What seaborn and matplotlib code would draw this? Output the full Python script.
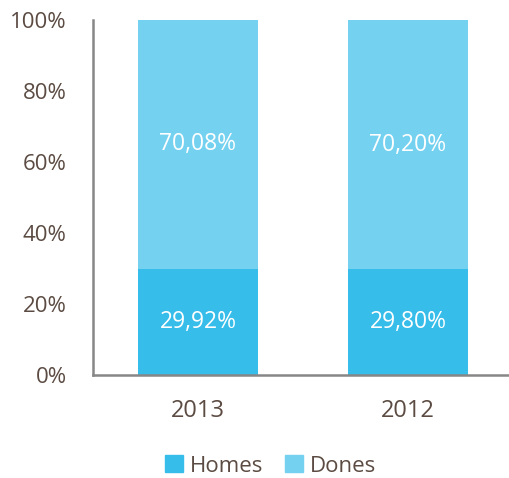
import matplotlib
matplotlib.use("Agg")
import matplotlib.pyplot as plt
import seaborn as sns
import pandas as pd
import numpy as np
from matplotlib.patches import Patch

years = ["2013", "2012"]
homes = [29.92, 29.80]
dones = [70.08, 70.20]
homes_labels = ["29,92%", "29,80%"]
dones_labels = ["70,08%", "70,20%"]
yticks = [0, 20, 40, 60, 80, 100]
ytick_labels = ["0%", "20%", "40%", "60%", "80%", "100%"]

c_homes = "#37BDEA"
c_dones = "#75D1F0"
txt = "#5B4B42"

sns.set_theme(style="white")
plt.rcParams['font.family'] = ['Open Sans', 'DejaVu Sans']

df = pd.DataFrame({"year": years, "Homes": homes, "Dones": dones})

fig = plt.figure(figsize=(5.09, 4.78), dpi=100)
ax = fig.add_axes([93/509, 1-375/478, 420/509, 355/478])

sns.barplot(data=df, x="year", y="Homes", color=c_homes, width=0.571, ax=ax,
            saturation=1, linewidth=0)
sns.barplot(data=df, x="year", y="Dones", color=c_dones, width=0.571, ax=ax,
            saturation=1, linewidth=0, bottom=df["Homes"].values)

for i in range(len(years)):
    ax.text(i, homes[i] / 2, homes_labels[i], ha="center", va="center",
            color="white", fontsize=16.5)
    ax.text(i, homes[i] + dones[i] / 2, dones_labels[i], ha="center", va="center",
            color="white", fontsize=16.5)

ax.set_xlim(-0.5, 1.5)
ax.set_ylim(0, 100)
ax.set_yticks(yticks)
ax.set_yticklabels(ytick_labels)
ax.set_xlabel("")
ax.set_ylabel("")
ax.tick_params(axis="y", colors=txt, labelsize=16, length=0, pad=19)
ax.tick_params(axis="x", colors=txt, labelsize=17, length=0, pad=17)
for s in ["top", "right"]:
    ax.spines[s].set_visible(False)
for s in ["left", "bottom"]:
    ax.spines[s].set_color("#878787")
    ax.spines[s].set_linewidth(1.8)

handles = [Patch(color=c_homes, label="Homes"), Patch(color=c_dones, label="Dones")]
fig.legend(handles=handles, loc="center", bbox_to_anchor=(0.532, 1-466/478), ncol=2,
           frameon=False, fontsize=16, labelcolor=txt, handlelength=0.8,
           handleheight=0.8, handletextpad=0.3, columnspacing=1.0)

fig.savefig("out.png", dpi=100)
